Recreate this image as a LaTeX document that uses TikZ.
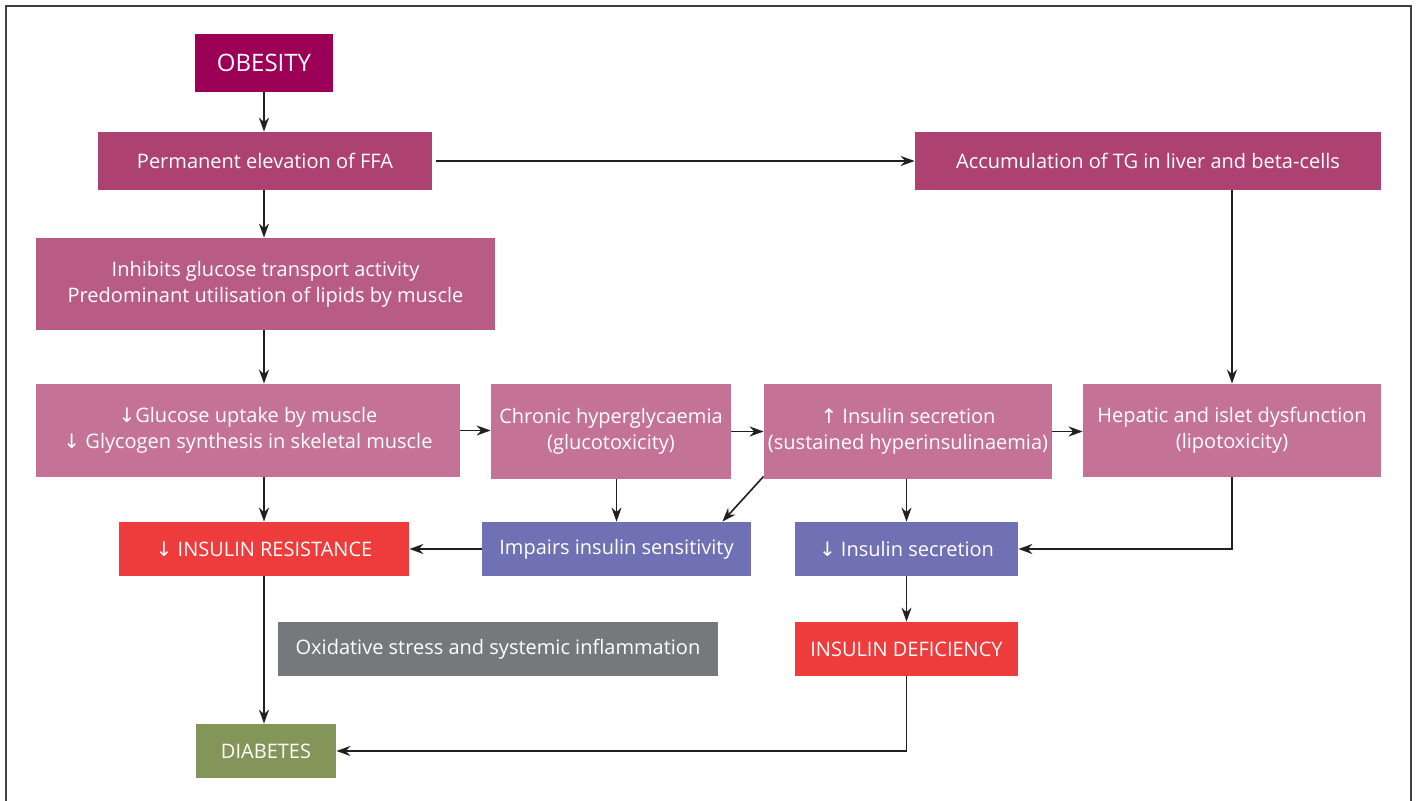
\documentclass[tikz,border=0pt]{standalone}
\usepackage{fontspec}
\setmainfont{Open Sans}
\newfontfamily\arrowfont{DejaVu Sans}
\usetikzlibrary{arrows.meta}
\definecolor{obes}{RGB}{155,0,86}
\definecolor{ffac}{RGB}{173,66,114}
\definecolor{inhc}{RGB}{185,92,133}
\definecolor{rowc}{RGB}{196,115,150}
\definecolor{redc}{RGB}{238,59,59}
\definecolor{purc}{RGB}{112,112,180}
\definecolor{grac}{RGB}{119,120,123}
\definecolor{grnc}{RGB}{132,149,90}
\definecolor{linec}{RGB}{35,31,32}
\tikzset{>={Stealth[length=7pt,width=5pt]}}
\newcommand{\dn}{{\arrowfont\char"2193}}
\newcommand{\up}{{\arrowfont\char"2191}}

\begin{document}
\begin{tikzpicture}[x=0.5pt, y=-0.5pt,
    box/.style={fill=#1, text=white, inner sep=0pt, align=center,
        font=\fontsize{10}{13}\selectfont},
    arr/.style={->, draw=linec, line width=0.8pt}]
    \useasboundingbox (0,0) rectangle (1417,801);
    \draw[line width=1pt, draw=black!75] (6,801) -- (6,6) -- (1411,6) -- (1411,801);

    \node[box=obes, minimum width=69pt, minimum height=29pt,
        font=\fontsize{12}{13}\selectfont] (obesity) at (264,63) {OBESITY};
    \node[box=ffac, minimum width=167pt, minimum height=29pt] (ffa) at (265,161)
        {Permanent elevation of FFA};
    \node[box=ffac, minimum width=233pt, minimum height=29pt] (tg) at (1148,161)
        {Accumulation of TG in liver and beta-cells};
    \node[box=inhc, minimum width=229.5pt, minimum height=46pt] (inhibits) at (265.5,284)
        {Inhibits glucose transport activity\\Predominant utilisation of lipids by muscle};
    \node[box=rowc, minimum width=212pt, minimum height=46.5pt] (uptake) at (248,430.5)
        {\dn Glucose uptake by muscle\\\dn\ Glycogen synthesis in skeletal muscle};
    \node[box=rowc, minimum width=120pt, minimum height=47.5pt] (hyper) at (611,431.5)
        {Chronic hyperglycaemia\\(glucotoxicity)};
    \node[box=rowc, minimum width=144pt, minimum height=47.5pt] (insup) at (908,431.5)
        {\up\ Insulin secretion\\(sustained hyperinsulinaemia)};
    \node[box=rowc, minimum width=149pt, minimum height=46.5pt] (hepatic) at (1232,430.5)
        {Hepatic and islet dysfunction\\(lipotoxicity)};
    \node[box=redc, minimum width=145pt, minimum height=27pt] (resist) at (264,549)
        {\dn\ INSULIN RESISTANCE};
    \node[box=purc, minimum width=134.5pt, minimum height=27pt] (impairs) at (616.5,549)
        {Impairs insulin sensitivity};
    \node[box=purc, minimum width=111.5pt, minimum height=27pt] (insdown) at (906.5,549)
        {\dn\ Insulin secretion};
    \node[box=grac, minimum width=220pt, minimum height=27pt] (oxid) at (498,649)
        {Oxidative stress and systemic inflammation};
    \node[box=redc, minimum width=111.5pt, minimum height=27pt] (defic) at (906.5,649)
        {INSULIN DEFICIENCY};
    \node[box=grnc, minimum width=70pt, minimum height=27pt] (diabetes) at (266,751)
        {DIABETES};

    \draw[arr] (obesity) -- (obesity |- ffa.north);
    \draw[arr] ([xshift=2pt]ffa.east) -- (tg.west);
    \draw[arr] (obesity |- ffa.south) -- (obesity |- inhibits.north);
    \draw[arr] (obesity |- inhibits.south) -- (obesity |- uptake.north);
    \draw[arr] (hepatic.north |- tg.south) -- (hepatic.north);
    \draw[arr] (uptake.east) -- (hyper.west |- uptake.east);
    \draw[arr] (hyper.east) -- (insup.west |- hyper.east);
    \draw[arr] (insup.east) -- (hepatic.west |- insup.east);
    \draw[arr] (obesity |- uptake.south) -- (resist.north);
    \draw[arr] (impairs.north |- hyper.south) -- (impairs.north);
    \draw[arr] ([yshift=1.5pt]insup.south west) -- ([xshift=-14.5pt]impairs.north east);
    \draw[arr] (insup.south -| insdown) -- (insdown.north);
    \draw[arr] (hepatic.south) |- (insdown.east);
    \draw[arr] (impairs.west) -- (resist.east);
    \draw[arr] (resist.south) -- (resist.south |- diabetes.north);
    \draw[arr] (insdown.south) -- (defic.north);
    \draw[arr] (defic.south) |- (diabetes.east);
\end{tikzpicture}
\end{document}
